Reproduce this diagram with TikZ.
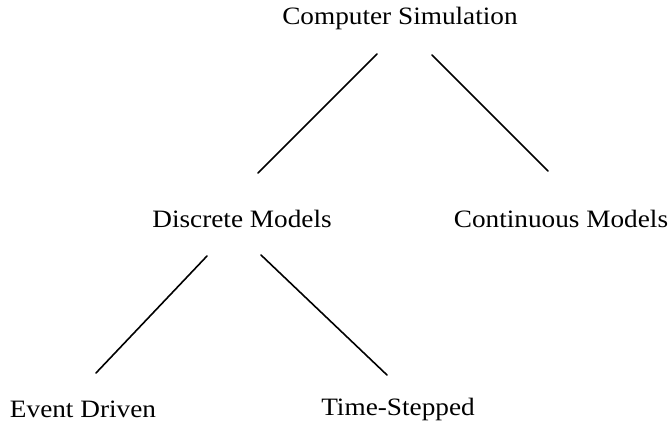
\documentclass[tikz,border=0pt]{standalone}
\usepackage{fontspec}
\setmainfont[FakeStretch=1.09]{Liberation Serif}
\begin{document}
\begin{tikzpicture}[x=1pt,y=-1pt,
  lbl/.style={anchor=base,inner sep=0pt,font=\fontsize{25}{30}\selectfont},
  link/.style={line width=1.6pt,line cap=round}]
\useasboundingbox (0,0) rectangle (670,425);
\node[lbl] (cs) at (400,25) {Computer Simulation};
\node[lbl] (dm) at (242,228) {Discrete Models};
\node[lbl] (cm) at (561,227) {Continuous Models};
\node[lbl] (ed) at (83,417) {Event Driven};
\node[lbl] (ts) at (398,415) {Time-Stepped};
\coordinate (csL) at (377,54);
\coordinate (csR) at (432,55);
\coordinate (dmU) at (258,173);
\coordinate (cmU) at (548,171);
\coordinate (dmL) at (207,256);
\coordinate (dmR) at (261,255);
\coordinate (edU) at (96,373);
\coordinate (tsU) at (387,375);
\draw[link] (csL) -- (dmU);
\draw[link] (csR) -- (cmU);
\draw[link] (dmL) -- (edU);
\draw[link] (dmR) -- (tsU);
\end{tikzpicture}
\end{document}
